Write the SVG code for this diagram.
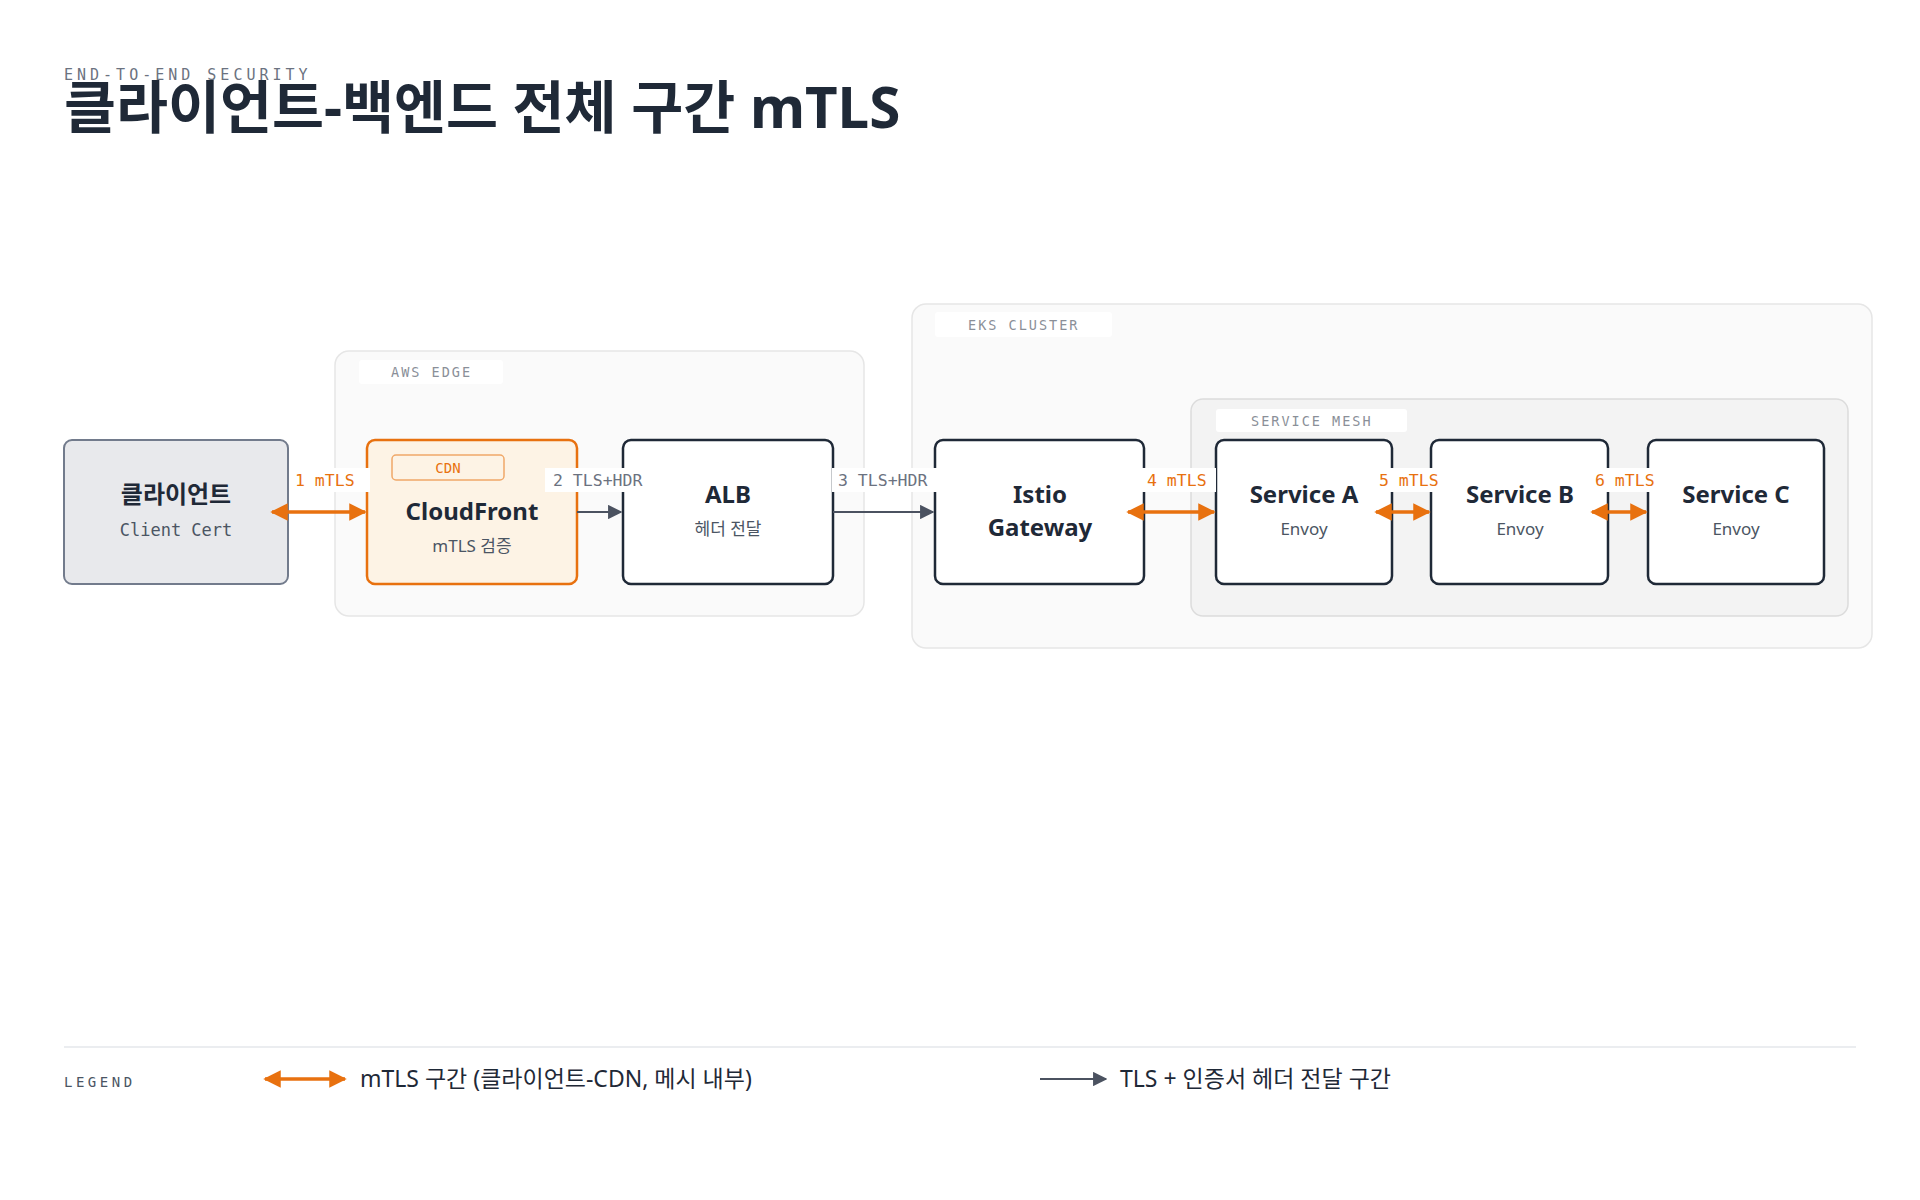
<svg xmlns="http://www.w3.org/2000/svg" width="1920" height="1200" viewBox="0 0 1920 1200">
<defs>
<marker id="ao" viewBox="0 0 10 10" refX="9" refY="5" markerWidth="5" markerHeight="5" orient="auto-start-reverse"><path d="M0,0L10,5L0,10z" fill="#e8710f"/></marker>
<marker id="ag" viewBox="0 0 10 10" refX="9" refY="5" markerWidth="8" markerHeight="8" orient="auto"><path d="M0,0L10,5L0,10z" fill="#4b5260"/></marker>
</defs>
<style>
.s{font-family:"Noto Sans","Noto Sans CJK KR",sans-serif}
.m{font-family:"DejaVu Sans Mono","Liberation Mono",monospace}
.grp{fill:#fafafa;stroke:#e6e6e6;stroke-width:1.5}
.gl{fill:#fff}
.gt{font-size:13.5px;fill:#8a8f98;letter-spacing:2px}
.node{fill:#fff;stroke:#1f2937;stroke-width:2.5}
.t{font-size:24px;font-weight:700;fill:#1f2937;text-anchor:middle}
.st{font-size:17px;fill:#4b5563;text-anchor:middle}
.mo{stroke:#e8710f;stroke-width:3.5;fill:none}
.tg{stroke:#4b5260;stroke-width:1.8;fill:none}
.lo{font-size:16.5px;fill:#e8710f}
.lg{font-size:16.5px;fill:#6b7280}
.lb{fill:#fff}
</style>
<rect width="1920" height="1200" fill="#fff"/>
<text x="64" y="80" class="m" font-size="15" fill="#6b7280" letter-spacing="4">END-TO-END SECURITY</text>
<text x="64" y="128" class="s" font-size="56.5" font-weight="700" fill="#1f2937">클라이언트-백엔드 전체 구간 mTLS</text>

<g id="aws-edge"><rect class="grp" x="335" y="351" width="529" height="265" rx="14"/><rect class="gl" x="359" y="360" width="144" height="24" rx="3"/><text class="m gt" x="391" y="377">AWS EDGE</text></g>
<g id="eks-cluster"><rect class="grp" x="912" y="304" width="960" height="344" rx="14"/><rect class="gl" x="935" y="312" width="177" height="25" rx="3"/><text class="m gt" x="968" y="330">EKS CLUSTER</text></g>
<g id="service-mesh"><rect x="1191" y="399" width="657" height="217" rx="12" fill="#f3f3f3" stroke="#dcdcdc" stroke-width="1.5"/><rect class="gl" x="1216" y="409" width="191" height="23" rx="3"/><text class="m gt" x="1251" y="426">SERVICE MESH</text></g>

<g id="client"><rect x="64" y="440" width="224" height="144" rx="8" fill="#e8e9ec" stroke="#727b8c" stroke-width="2"/><text class="s t" x="176" y="503">클라이언트</text><text class="m st" x="176" y="536">Client Cert</text></g>
<g id="cloudfront"><rect x="367" y="440" width="210" height="144" rx="8" fill="#fdf3e5" stroke="#e8710f" stroke-width="2.5"/><rect x="392" y="455" width="112" height="25" rx="4" fill="none" stroke="#f0a868" stroke-width="1.5"/><text class="m" x="448" y="473" font-size="14" fill="#e8710f" text-anchor="middle">CDN</text><text class="s t" x="472" y="520">CloudFront</text><text class="s st" x="472" y="552">mTLS 검증</text></g>
<g id="alb"><rect class="node" x="623" y="440" width="210" height="144" rx="8"/><text class="s t" x="728" y="503">ALB</text><text class="s st" x="728" y="535">헤더 전달</text></g>
<g id="istio"><rect class="node" x="935" y="440" width="209" height="144" rx="8"/><text class="s t" x="1040" y="503">Istio</text><text class="s t" x="1040" y="536">Gateway</text></g>
<g id="service-a"><rect class="node" x="1216" y="440" width="176" height="144" rx="8"/><text class="s t" x="1304" y="503">Service A</text><text class="s st" x="1304" y="535">Envoy</text></g>
<g id="service-b"><rect class="node" x="1431" y="440" width="177" height="144" rx="8"/><text class="s t" x="1520" y="503">Service B</text><text class="s st" x="1520" y="535">Envoy</text></g>
<g id="service-c"><rect class="node" x="1648" y="440" width="176" height="144" rx="8"/><text class="s t" x="1736" y="503">Service C</text><text class="s st" x="1736" y="535">Envoy</text></g>

<g id="connectors">
<line class="mo" x1="272" y1="512" x2="365" y2="512" marker-start="url(#ao)" marker-end="url(#ao)"/>
<line class="tg" x1="577" y1="512" x2="621" y2="512" marker-end="url(#ag)"/>
<line class="tg" x1="833" y1="512" x2="933" y2="512" marker-end="url(#ag)"/>
<line class="mo" x1="1128" y1="512" x2="1214" y2="512" marker-start="url(#ao)" marker-end="url(#ao)"/>
<line class="mo" x1="1376" y1="512" x2="1429" y2="512" marker-start="url(#ao)" marker-end="url(#ao)"/>
<line class="mo" x1="1592" y1="512" x2="1646" y2="512" marker-start="url(#ao)" marker-end="url(#ao)"/>
<rect class="lb" x="290" y="468" width="80" height="24"/><text class="m lo" x="295" y="486">1 mTLS</text>
<rect class="lb" x="545" y="468" width="106" height="24"/><text class="m lg" x="553" y="486">2 TLS+HDR</text>
<rect class="lb" x="832" y="468" width="106" height="24"/><text class="m lg" x="838" y="486">3 TLS+HDR</text>
<rect class="lb" x="1142" y="468" width="74" height="24"/><text class="m lo" x="1147" y="486">4 mTLS</text>
<rect class="lb" x="1374" y="468" width="74" height="24"/><text class="m lo" x="1379" y="486">5 mTLS</text>
<rect class="lb" x="1590" y="468" width="74" height="24"/><text class="m lo" x="1595" y="486">6 mTLS</text>
</g>

<g id="legend">
<line x1="64" y1="1047" x2="1856" y2="1047" stroke="#e5e7eb" stroke-width="1.5"/>
<text class="m" x="64" y="1087" font-size="14" fill="#4b5563" letter-spacing="3.5">LEGEND</text>
<line class="mo" x1="265" y1="1079" x2="345" y2="1079" marker-start="url(#ao)" marker-end="url(#ao)"/>
<text class="s" x="360" y="1087" font-size="23" fill="#1f2937">mTLS 구간 (클라이언트-CDN, 메시 내부)</text>
<line class="tg" x1="1040" y1="1079" x2="1106" y2="1079" marker-end="url(#ag)"/>
<text class="s" x="1120" y="1087" font-size="23" fill="#1f2937">TLS + 인증서 헤더 전달 구간</text>
</g>
</svg>
